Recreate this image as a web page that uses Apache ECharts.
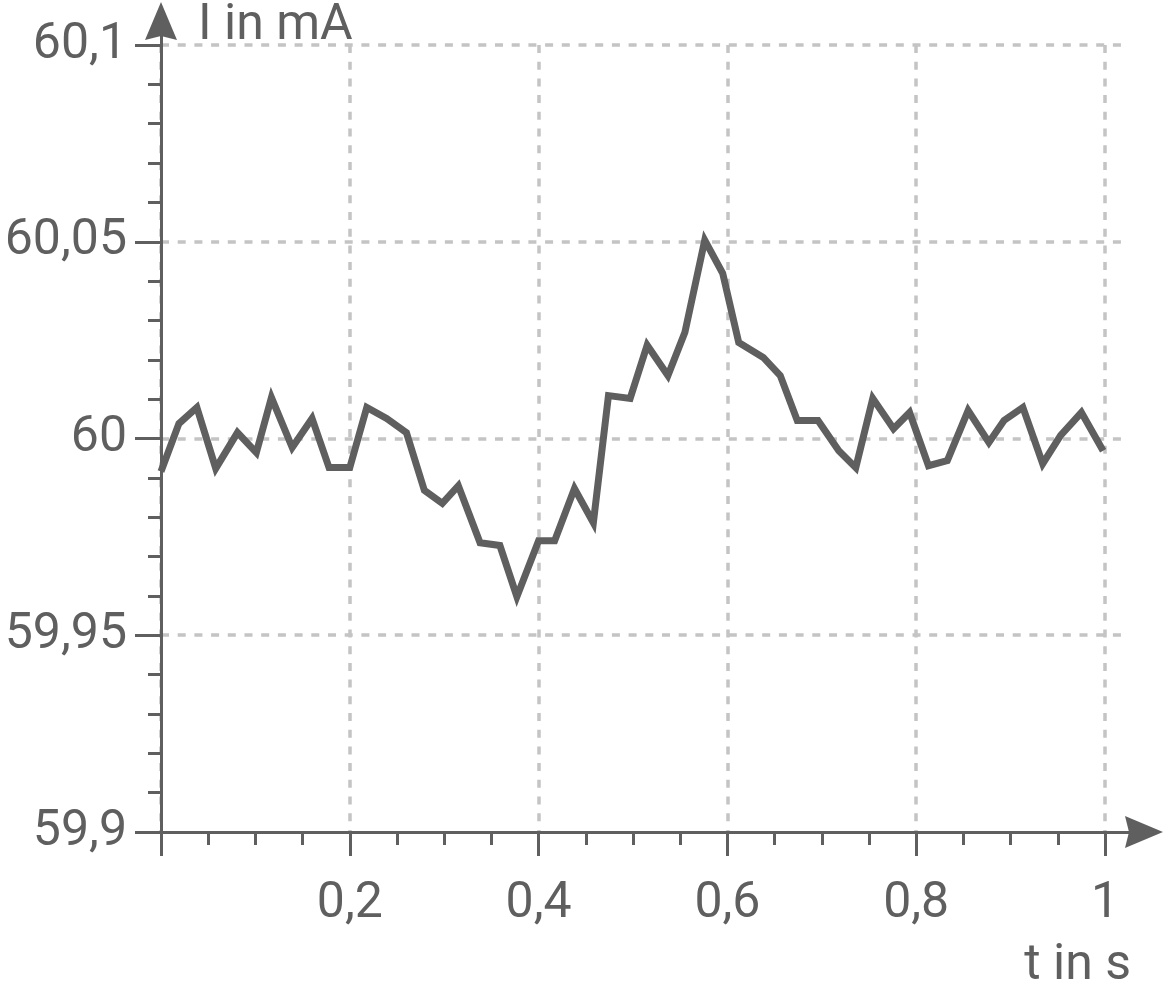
<!DOCTYPE html>
<html>
<head>
<meta charset="utf-8">
<script src="https://cdn.jsdelivr.net/npm/echarts@6.0.0/dist/echarts.min.js"></script>
<style>
html,body{margin:0;padding:0;background:#fff;}
#chart{width:1165px;height:995px;}
</style>
</head>
<body>
<div id="chart"></div>
<script>
// time in s
var tValues = [0.000,0.019,0.038,0.058,0.081,0.101,0.117,0.139,0.160,0.178,
  0.200,0.218,0.239,0.260,0.279,0.298,0.315,0.338,0.359,0.377,
  0.400,0.417,0.438,0.458,0.474,0.497,0.515,0.537,0.555,0.576,
  0.595,0.612,0.638,0.656,0.674,0.696,0.718,0.736,0.754,0.776,
  0.793,0.813,0.833,0.855,0.877,0.893,0.913,0.934,0.953,0.975,0.998];
// current in mA
var iValues = [59.9916,60.0038,60.0079,59.9924,60.0015,59.9964,60.0104,59.9977,60.0051,59.9926,
  59.9926,60.0079,60.0051,60.0015,59.9868,59.9835,59.9880,59.9735,59.9728,59.9598,
  59.9740,59.9740,59.9873,59.9786,60.0109,60.0102,60.0237,60.0160,60.0270,60.0504,
  60.0420,60.0244,60.0206,60.0160,60.0046,60.0046,59.9969,59.9926,60.0102,60.0025,
  60.0066,59.9931,59.9944,60.0071,59.9990,60.0046,60.0079,59.9936,60.0008,60.0066,59.9969];
var xTickValues = [0, 0.2, 0.4, 0.6, 0.8, 1];
var yTickValues = [59.9, 59.95, 60, 60.05, 60.1];
var xName = 't in s';
var yName = 'I in mA';

var C = '#5f5f5f';
var GRIDC = '#c4c4c4';
var FONT = 'Roboto';
var FS = 50;
function fmt(v){ return String(Math.round(v*1000)/1000).replace('.', ','); }

var data = tValues.map(function(t, i){ return [t, iValues[i]]; });
var arrowPath = 'path://M16,0 L32,38 L16,34 L0,38 Z';
var dash = [8, 8.7];

var chart = echarts.init(document.getElementById('chart'), null, {renderer:'canvas'});
chart.setOption({
  animation: false,
  backgroundColor: '#fff',
  grid: [
    {left:161, right:60, top:45, bottom:163, outerBoundsMode:'none', containLabel:false},
    {left:161, right:40, top:45, bottom:163, outerBoundsMode:'none', containLabel:false},
    {left:161, right:21, top:21, bottom:163, outerBoundsMode:'none', containLabel:false}
  ],
  xAxis: [
    {
      gridIndex:0, type:'value', min:xTickValues[0], max:xTickValues[xTickValues.length-1], interval:0.2,
      axisLine:{show:false},
      axisTick:{show:true, length:24, lineStyle:{color:C, width:3}},
      minorTick:{show:true, splitNumber:4, length:13, lineStyle:{color:C, width:3}},
      axisLabel:{show:true, margin:47, color:C, fontFamily:FONT, fontSize:FS,
        formatter:function(v){ return v === 0 ? '' : fmt(v); }},
      splitLine:{show:true, lineStyle:{color:GRIDC, width:3.5, type:dash}},
      name:xName, nameLocation:'end', nameGap:26,
      nameTextStyle:{color:C, fontFamily:FONT, fontSize:FS, align:'right', verticalAlign:'top', padding:[109,0,0,0]}
    },
    {gridIndex:1, type:'value', min:0, max:1, show:false},
    {
      gridIndex:2, type:'value', min:0, max:1,
      axisLine:{show:true, symbol:['none', arrowPath], symbolSize:[32,38], lineStyle:{color:C, width:3}},
      axisTick:{show:false}, axisLabel:{show:false}, splitLine:{show:false}
    }
  ],
  yAxis: [
    {
      gridIndex:0, type:'value', min:yTickValues[0], max:yTickValues[yTickValues.length-1], interval:0.05,
      axisLine:{show:false},
      axisTick:{show:true, length:26, lineStyle:{color:C, width:3}},
      minorTick:{show:true, splitNumber:5, length:13, lineStyle:{color:C, width:3}},
      axisLabel:{show:true, margin:34, color:C, fontFamily:FONT, fontSize:FS, formatter:fmt},
      splitLine:{show:false},
      name:yName, nameLocation:'end', nameGap:19,
      nameTextStyle:{color:C, fontFamily:FONT, fontSize:FS, align:'left', verticalAlign:'middle', padding:[0,0,0,37]}
    },
    {
      gridIndex:1, type:'value', min:yTickValues[0], max:yTickValues[yTickValues.length-1], interval:0.05,
      axisLine:{show:false}, axisTick:{show:false}, axisLabel:{show:false},
      splitLine:{show:true, showMinLine:false, lineStyle:{color:GRIDC, width:3.5, type:dash}}
    },
    {
      gridIndex:2, type:'value', min:0, max:1,
      axisLine:{show:true, symbol:['none', arrowPath], symbolSize:[32,38], lineStyle:{color:C, width:3}},
      axisTick:{show:false}, axisLabel:{show:false}, splitLine:{show:false}
    }
  ],
  series: [{
    type:'line', xAxisIndex:0, yAxisIndex:0, data:data,
    symbol:'none', smooth:false,
    lineStyle:{color:C, width:7, join:'miter'},
    z:5
  }]
});
</script>
</body>
</html>
